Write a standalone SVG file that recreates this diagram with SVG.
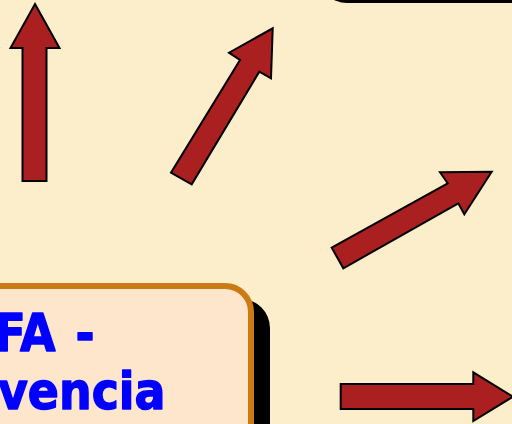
<svg xmlns="http://www.w3.org/2000/svg" width="512" height="424" viewBox="0 0 512 424">
<style>
.arrow{fill:#AA1F1F;stroke:#000;stroke-width:2;stroke-linejoin:miter}
.shadow{fill:#000}
.box{fill:#FEE6CD;stroke:#CC7A13;stroke-width:6}
.label{font-family:"DejaVu Sans Condensed","DejaVu Sans",sans-serif;font-stretch:condensed;font-weight:bold;font-size:51px;fill:#0000FF;stroke:#0000FF;stroke-width:1.3;stroke-linejoin:round}
</style>
<rect x="0" y="0" width="512" height="424" fill="#FCEDCB"/>
<g id="topbox">
<rect class="shadow" x="318" y="-120" width="260" height="123" rx="29" ry="29"/>
</g>
<g id="connectors">
<polygon class="arrow" points="35,4 59.5,48 46.5,48 46.5,181 22.5,181 22.5,48 10.5,48"/>
<polygon class="arrow" points="272.7,28.3 271,78.3 259.3,71.7 191.7,184.3 171,172.7 240,60 229,52.7"/>
<polygon class="arrow" points="491.7,171.7 464.3,214.3 458.3,203.3 343.3,268.3 331.7,247.7 447.7,183.3 440,172.3"/>
<polygon class="arrow" points="340.7,384 473.3,384 473.3,372.3 513,396.7 473.3,421 473.3,409 340.7,409"/>
</g>
<g id="mainbox">
<rect class="shadow" x="-100" y="299" width="370" height="200" rx="29" ry="29"/>
<rect class="box" x="-116" y="286" width="367" height="200" rx="26" ry="26"/>
<text class="label" x="-5.5" y="351">FA <tspan x="75.5">-</tspan></text>
<text class="label" x="165.5" y="409" text-anchor="end">vencia</text>
</g>
</svg>
